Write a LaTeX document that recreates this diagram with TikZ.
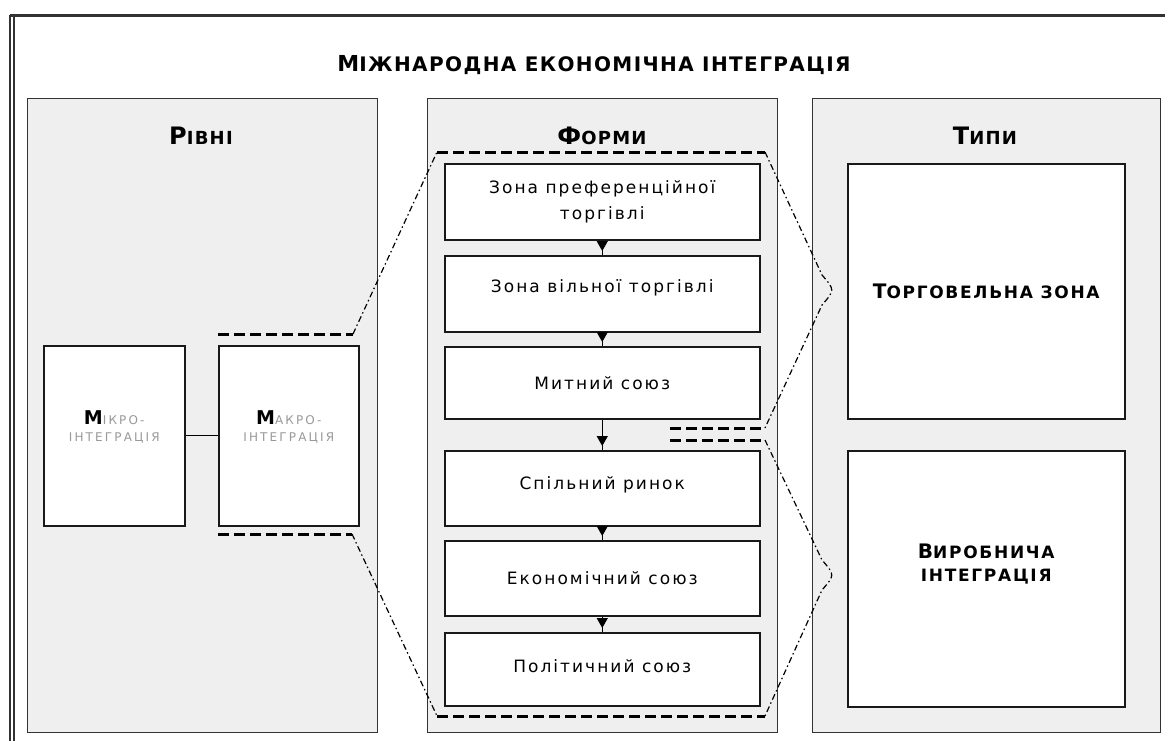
\documentclass[tikz,border=0pt]{standalone}
\usepackage{fontspec}
\setmainfont{DejaVu Sans}
\newfontfamily\boxfont{DejaVu Sans}[LetterSpace=12]
\newfontfamily\grayfont{DejaVu Sans}[LetterSpace=18]
\newfontfamily\capfont{DejaVu Sans Bold}[LetterSpace=7]
\newfontfamily\typefont{DejaVu Sans Bold}[LetterSpace=10]
\usetikzlibrary{arrows.meta}
\definecolor{panelfill}{HTML}{EFEFEF}
\definecolor{framecol}{HTML}{333333}
\newcommand\fsz[1]{\fontsize{#1}{#1}\selectfont}
\tikzset{
  panel/.style={draw=framecol, line width=1.4pt, fill=panelfill, inner sep=0pt, anchor=north west},
  ibox/.style={draw=black!90, line width=1.5pt, fill=white, inner sep=0pt, anchor=north west, align=center},
  formbox/.style={ibox, minimum width=315pt, font=\boxfont\fsz{17}},
  ptitle/.style={inner sep=0pt, font=\capfont},
  thickdash/.style={line width=3pt, dash pattern=on 11pt off 5pt},
  thindash/.style={line width=1.2pt, dash pattern=on 6pt off 3pt on 1.5pt off 3pt},
  flow/.style={line width=1.3pt, postaction={draw, -{Triangle[length=10pt,width=11pt]}, shorten >=4pt}},
  link/.style={line width=1.3pt}
}
\begin{document}
\begin{tikzpicture}[x=1pt,y=-1pt]
\useasboundingbox (0,0) rectangle (1165,740);
\clip (0,0) rectangle (1165,740);
\fill[white] (0,0) rectangle (1165,740);
% outer frame
\draw[line width=3pt, framecol] (10,15) -- (1170,15);
\draw[line width=1.5pt, framecol] (10,15) -- (10,745);
\draw[line width=1.5pt, framecol] (14,17) -- (14,745);
% title
\node[ptitle] (title) at (594,65) {{\fsz{22}М}{\fsz{20}ІЖНАРОДНА ЕКОНОМІЧНА ІНТЕГРАЦІЯ}};
% panels
\node[panel, minimum width=350pt, minimum height=634pt] (levels) at (27,98) {};
\node[panel, minimum width=350pt, minimum height=634pt] (forms) at (427,98) {};
\node[panel, minimum width=348pt, minimum height=634pt] (types) at (812,98) {};
\node[ptitle] (tlev) at (201,136) {{\fsz{24}Р}{\fsz{18}ІВНІ}};
\node[ptitle] (tfor) at (602,136) {{\fsz{24}Ф}{\fsz{18}ОРМИ}};
\node[ptitle] (ttyp) at (985,136) {{\fsz{24}Т}{\fsz{18}ИПИ}};
% levels
\node[ibox, minimum width=141pt, minimum height=180pt] (micro) at (43,345)
  {{\capfont\fsz{19}М}{\grayfont\fsz{12}\color{black!40}ІКРО-}\\[5pt]{\grayfont\fsz{12}\color{black!40}ІНТЕГРАЦІЯ}\\[8pt]};
\node[ibox, minimum width=140pt, minimum height=180pt] (macro) at (218,345)
  {{\capfont\fsz{19}М}{\grayfont\fsz{12}\color{black!40}АКРО-}\\[5pt]{\grayfont\fsz{12}\color{black!40}ІНТЕГРАЦІЯ}\\[8pt]};
\draw[link] (micro) -- (macro);
% forms
\node[formbox, minimum height=76pt] (f1) at (444,163) {Зона преференційної\\[9pt]торгівлі};
\node[formbox, minimum height=76pt] (f2) at (444,255) {Зона вільної торгівлі\\[-1pt]};
\node[formbox, minimum height=72pt] (f3) at (444,346) {Митний союз};
\node[formbox, minimum height=75pt] (f4) at (444,450) {Спільний ринок\\[-7pt]};
\node[formbox, minimum height=75pt] (f5) at (444,540) {Економічний союз};
\node[formbox, minimum height=73pt] (f6) at (444,632) {Політичний союз\\[-11pt]};
\draw[flow] (f1.south) -- (f2.north);
\draw[flow] (f2.south) -- (f3.north);
\draw[flow] (f3.south) -- (f4.north);
\draw[flow] (f4.south) -- (f5.north);
\draw[flow] (f5.south) -- (f6.north);
% types
\node[ibox, minimum width=277pt, minimum height=255pt] (trade) at (847,163)
  {\typefont{\fsz{20}Т}{\fsz{17}ОРГОВЕЛЬНА ЗОНА}};
\node[ibox, minimum width=277pt, minimum height=256pt] (prod) at (847,450)
  {\typefont{\fsz{20}В}{\fsz{17}ИРОБНИЧА}\\[10pt]\typefont\fsz{17}ІНТЕГРАЦІЯ\\[20pt]};
% dashed outlines
\coordinate (lu1) at (218,334);
\coordinate (lu2) at (353,334);
\coordinate (ld1) at (218,534);
\coordinate (ld2) at (352,534);
\coordinate (tl) at (437,152);
\coordinate (tr) at (765,152);
\coordinate (bl) at (437,716);
\coordinate (br) at (765,716);
\coordinate (m1l) at (670,428);
\coordinate (m1r) at (765,428);
\coordinate (m2l) at (670,440);
\coordinate (m2r) at (765,440);
\draw[thickdash] (lu1) -- (lu2);
\draw[thickdash] (ld1) -- (ld2);
\draw[thickdash] (tl) -- (tr);
\draw[thickdash] (bl) -- (br);
\draw[thickdash] (m1l) -- (m1r);
\draw[thickdash] (m2l) -- (m2r);
\draw[thindash] (lu2) -- (tl);
\draw[thindash] (ld2) -- (bl);
\draw[thindash] (tr) -- (822,275) .. controls (835,290) .. (822,305) -- (m1r);
\draw[thindash] (m2r) -- (822,560) .. controls (835,575) .. (822,590) -- (br);
\end{tikzpicture}
\end{document}
